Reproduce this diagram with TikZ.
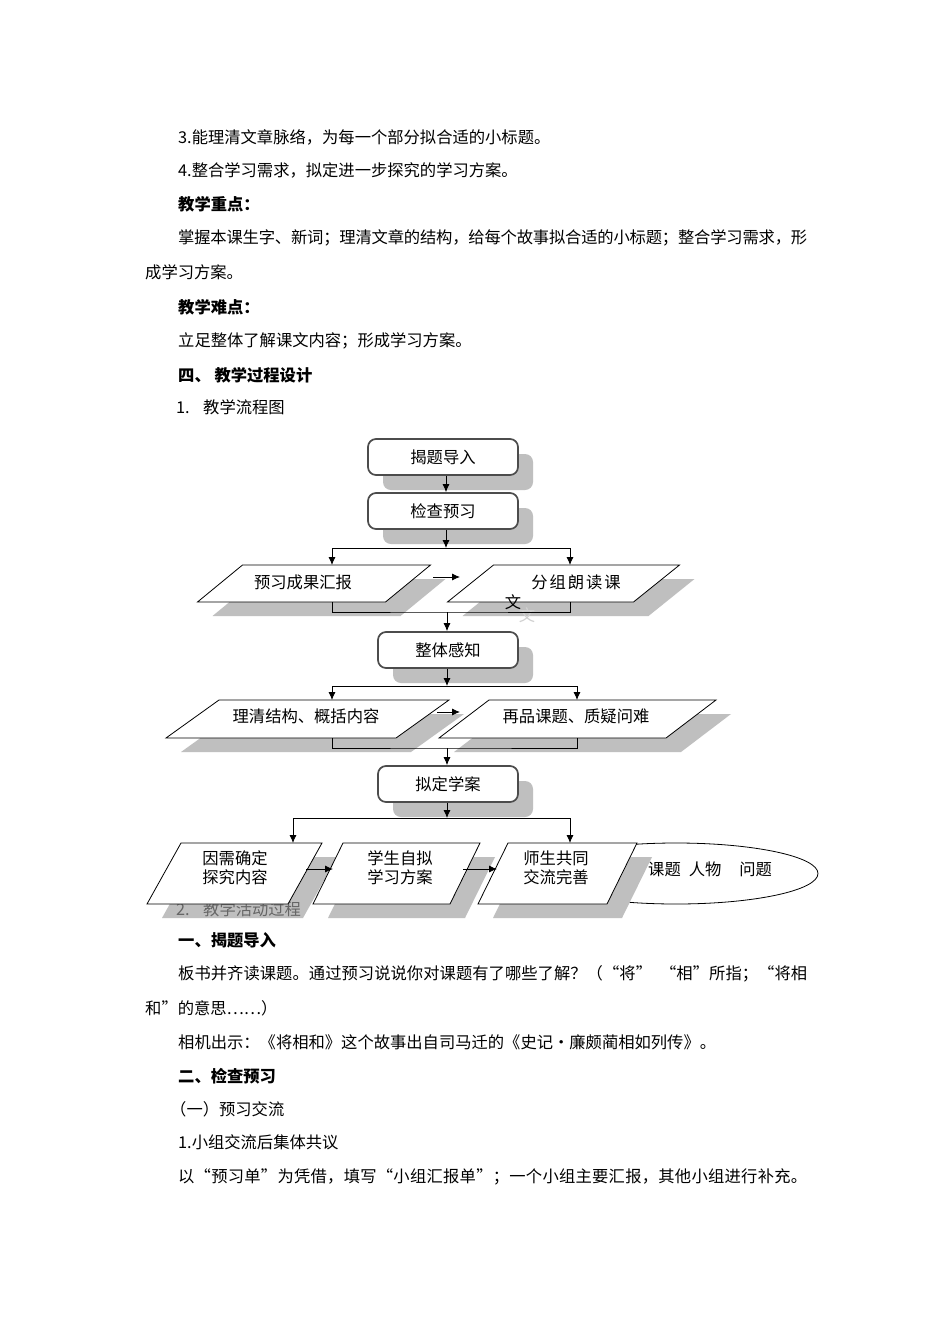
\documentclass[tikz,border=0pt]{standalone}
\usepackage{fontspec}
\setmainfont{Noto Sans CJK SC}
\usetikzlibrary{arrows.meta,calc,shadows,shapes.geometric}
\newcommand\bodyfont{\fontsize{16.3pt}{19pt}\selectfont}
\makeatletter
\def\spr@end{\spr@end@}
\def\spr#1{\spr@a#1\spr@end}
\def\spr@a#1{\ifx\spr@end#1\unskip\else#1\hskip0pt plus 1fil minus 0.6pt\expandafter\spr@a\fi}
\makeatother
\newcommand\gap{\hskip8pt}
\newcommand\jline[1]{\makebox[629pt][s]{\spr{#1}}}
\newcommand\pgshadow[6]{%
  \fill[pgshade] ({#2-#4/2-#6/2+15},{#3+#5/2+14}) -- ++(#4,0) -- ++(#6,-#5) -- ++(-#4,0) -- cycle;}
\newcommand\pgshape[6]{%
  \node[pgbox, minimum width=#4, minimum height=#5] (#1) at (#2,#3) {};
  \draw[pgline] ({#2-#4/2-#6/2},{#3+#5/2}) -- ++(#4,0) -- ++(#6,-#5) -- ++(-#4,0) -- cycle;}
\begin{document}
\begin{tikzpicture}[x=1pt,y=-1pt,
  txt/.style={anchor=base west, inner sep=0pt, font=\bodyfont},
  btxt/.style={anchor=base west, inner sep=0pt, font=\bodyfont\bfseries},
  ctxt/.style={anchor=center, inner sep=0pt, font=\bodyfont, align=center},
  rbox/.style={draw=black!70, line width=1.7pt, rounded corners=8pt, fill=white,
     minimum width=150pt, minimum height=36pt, inner sep=0pt, font=\bodyfont,
     drop shadow={shadow xshift=15pt, shadow yshift=-15pt, fill=black!25, opacity=1}},
  pgshade/.style={fill=black!25},
  pgline/.style={draw=black, line width=0.8pt, fill=white},
  pgbox/.style={inner sep=0pt, draw=none},
  conn/.style={draw=black, line width=0.8pt},
  arr/.style={conn, -{Latex[length=8pt,width=7pt]}}]
\useasboundingbox (0,0) rectangle (950,1344);
\fill[white] (0,0) rectangle (950,1344);

% ---------- page text ----------
\node[txt] (t1) at (178,143) {3.能理清文章脉络，为每一个部分拟合适的小标题。};
\node[txt] (t2) at (178,176) {4.整合学习需求，拟定进一步探究的学习方案。};
\node[btxt] (t3) at (178,210) {教学重点：};
\node[txt] (t4) at (178,243) {\jline{掌握本课生字、新词；理清文章的结构，给每个故事拟合适的小标题；整合学习需求，形}};
\node[txt] (t5) at (145,278) {成学习方案。};
\node[btxt] (t6) at (178,313) {教学难点：};
\node[txt] (t7) at (178,346) {立足整体了解课文内容；形成学习方案。};
\node[btxt] (t8) at (178,381) {四、 教学过程设计};
\node[txt] (t9a) at (176,413) {1.};
\node[txt] (t9) at (203,413) {教学流程图};
\node[btxt] (t11) at (178,946) {一、揭题导入};
\node[txt] (t12) at (178,979) {\jline{板书并齐读课题。通过预习说说你对课题有了哪些了解？（“将”\gap“相”所指；“将相}};
\node[txt] (t13) at (145,1014) {和”的意思……）};
\node[txt] (t14) at (178,1048) {相机出示：《将相和》这个故事出自司马迁的《史记•廉颇蔺相如列传》。};
\node[btxt] (t15) at (178,1082) {二、检查预习};
\node[txt] (t16) at (170,1115) {（一）预习交流};
\node[txt] (t17) at (178,1148) {1.小组交流后集体共议};
\node[txt] (t18) at (178,1182) {\jline{以“预习单”为凭借，填写“小组汇报单”；一个小组主要汇报，其他小组进行补充。}};

% ---------- ellipse behind the last parallelogram ----------
\node[draw=black, line width=0.8pt, fill=white, ellipse, minimum width=284pt, minimum height=61pt,
      inner sep=0pt] (ov) at (676,873.5) {};

% ---------- parallelogram shadows ----------
\pgshadow{p1}{314}{583.5}{188}{37}{45}
\pgshadow{p2}{563.5}{583.5}{186}{37}{46}
\pgshadow{p3}{307.5}{719}{230}{38}{53}
\pgshadow{p4}{577.5}{719}{227}{38}{50}
\pgshadow{p5}{234.5}{873.5}{141}{61}{34}
\pgshadow{p6}{396.5}{873.5}{137}{61}{30}
\pgshadow{p7}{557.5}{873.5}{129}{61}{30}

% text lying over the shadows
\node[txt, text=black!60] (t10a) at (176,915) {2.};
\node[txt, text=black!60] (t10) at (203,915) {教学活动过程};

% ---------- parallelograms ----------
\pgshape{p1}{314}{583.5}{188}{37}{45}
\pgshape{p2}{563.5}{583.5}{186}{37}{46}
\pgshape{p3}{307.5}{719}{230}{38}{53}
\pgshape{p4}{577.5}{719}{227}{38}{50}
\pgshape{p5}{234.5}{873.5}{141}{61}{34}
\pgshape{p6}{396.5}{873.5}{137}{61}{30}
\pgshape{p7}{557.5}{873.5}{129}{61}{30}

\node[ctxt] (l1) at (303,582) {预习成果汇报};
\node[ctxt] (l2) at (576,582) {分\kern2pt组\kern2pt朗\kern2pt读\kern2pt课};
\node[ctxt, text=black!18] (l2c) at (527,615) {文};
\node[ctxt] (l2b) at (513,602) {文};
\node[ctxt] (l3) at (306,716) {理清结构、概括内容};
\node[ctxt] (l4) at (576,716) {再品课题、质疑问难};
\node[ctxt] (l5) at (235,868) {因需确定\\探究内容};
\node[ctxt] (l6) at (400,868) {学生自拟\\学习方案};
\node[ctxt] (l7) at (556,868) {师生共同\\交流完善};
\node[txt, anchor=west] (l8) at (648,869) {课题\hspace{8pt}人物\hspace{18pt}问题};

% ---------- rounded boxes ----------
\node[rbox] (b1) at (443,457) {揭题导入};
\node[rbox] (b2) at (443,511) {检查预习};
\node[rbox, minimum width=140pt] (b3) at (448,650) {整体感知};
\node[rbox, minimum width=140pt] (b4) at (448,784) {拟定学案};

% ---------- connectors ----------
\coordinate (j1) at (446,548);
\coordinate (p1in) at (332,565);
\coordinate (p2in) at (570,565);
\draw[arr] (b1.south -| j1) -- (b2.north -| j1);
\draw[arr] (b2.south -| j1) -- (j1);
\draw[arr] (j1) -| (p1in);
\draw[arr] (j1) -| (p2in);
\coordinate (a1s) at (433,577);
\coordinate (a1e) at (460,577);
\draw[arr] (a1s) -- (a1e);
\coordinate (p1out) at (332,602);
\coordinate (p2out) at (570,602);
\coordinate (j2) at (447,612);
\draw[conn] (p1out) |- (j2) -| (p2out);
\draw[arr] (j2) -- (b3.north -| j2);

\coordinate (j3) at (447,686);
\coordinate (p3in) at (332,700);
\coordinate (p4in) at (577,700);
\draw[arr] (b3.south -| j3) -- (j3);
\draw[arr] (j3) -| (p3in);
\draw[arr] (j3) -| (p4in);
\coordinate (a2s) at (437,712);
\coordinate (a2e) at (460,712);
\draw[arr] (a2s) -- (a2e);
\coordinate (p3out) at (332,738);
\coordinate (p4out) at (577,738);
\coordinate (j4) at (447,748);
\draw[conn] (p3out) |- (j4) -| (p4out);
\draw[arr] (j4) -- (b4.north -| j4);

\coordinate (j5) at (447,818);
\coordinate (p5in) at (293,843);
\coordinate (p7in) at (570,843);
\draw[arr] (b4.south -| j5) -- (j5);
\draw[arr] (j5) -| (p5in);
\draw[arr] (j5) -| (p7in);
\coordinate (a3s) at (306,869);
\coordinate (a3e) at (333,869);
\draw[arr] (a3s) -- (a3e);
\coordinate (a4s) at (463,869);
\coordinate (a4e) at (497,869);
\draw[arr] (a4s) -- (a4e);
\end{tikzpicture}
\end{document}
